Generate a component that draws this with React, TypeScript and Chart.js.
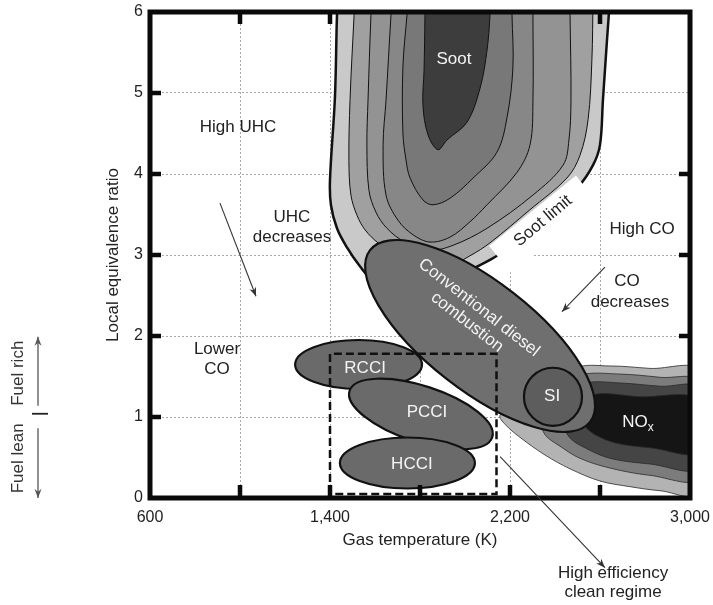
import React, { useEffect, useRef } from 'react';
import { Chart, registerables } from 'chart.js';

Chart.register(...registerables);

const FONT = '"Liberation Sans", Arial, Helvetica, sans-serif';

// ---------- axes ----------
const X_MIN = 600;
const X_MAX = 3000;
const X_STEP = 400;
const X_LABELED_TICKS = [600, 1400, 2200, 3000];
const Y_MIN = 0;
const Y_MAX = 6;
const Y_STEP = 1;

// inward tick marks on the heavy frame
const LEFT_MARKS = [1, 2, 3, 4, 5];
const RIGHT_MARKS = [2, 3, 4];
const TOP_MARKS = [1000, 1400, 2600];
const BOTTOM_MARKS = [1000, 1400, 1800, 2200, 2600];

// ---------- soot contours (outer -> inner): gas temperature K / equivalence ratio ----------
const SOOT1_T = [1436, 1431, 1422, 1400, 1404, 1431, 1476, 1533, 1600, 1711, 1889, 2022, 2111, 2169, 2333, 2502, 2569, 2600, 2613, 2631, 2644];
const SOOT1_PHI = [6.15, 5.96, 4.95, 3.93, 3.62, 3.33, 3.09, 2.86, 2.65, 2.47, 2.57, 2.81, 2.94, 3.04, 3.41, 3.84, 4.11, 4.36, 4.91, 5.65, 6.15];
const SOOT2_T = [1511, 1507, 1489, 1484, 1493, 1520, 1556, 1613, 1689, 1800, 1911, 2022, 2111, 2289, 2453, 2511, 2547, 2564, 2569];
const SOOT2_PHI = [6.15, 5.96, 4.91, 4.17, 3.74, 3.49, 3.31, 3.15, 3.0, 2.84, 2.84, 2.99, 3.15, 3.56, 3.95, 4.23, 4.67, 5.41, 6.15];
const SOOT3_T = [1587, 1582, 1569, 1564, 1573, 1604, 1653, 1733, 1844, 1947, 2098, 2302, 2436, 2462, 2471, 2467, 2467];
const SOOT3_PHI = [6.15, 5.96, 4.91, 4.36, 3.8, 3.53, 3.33, 3.16, 3.06, 3.12, 3.33, 3.74, 4.11, 4.42, 4.91, 5.96, 6.15];
const SOOT4_T = [1676, 1671, 1649, 1636, 1649, 1702, 1769, 1844, 1933, 2022, 2098, 2231, 2289, 2302, 2302, 2302];
const SOOT4_PHI = [6.15, 5.96, 4.91, 4.36, 3.74, 3.43, 3.25, 3.16, 3.22, 3.41, 3.62, 4.02, 4.36, 4.91, 5.96, 6.15];
const SOOT5_T = [1747, 1742, 1724, 1724, 1738, 1756, 1813, 1858, 1933, 2036, 2142, 2187, 2213, 2209, 2209];
const SOOT5_PHI = [6.15, 5.96, 5.32, 4.51, 4.17, 3.95, 3.68, 3.62, 3.7, 3.95, 4.27, 4.7, 5.32, 5.96, 6.15];
const SOOT6_T = [1822, 1822, 1818, 1813, 1836, 1880, 1920, 2009, 2067, 2098, 2111, 2111];
const SOOT6_PHI = [6.15, 5.96, 5.28, 4.85, 4.48, 4.3, 4.42, 4.64, 5.06, 5.53, 5.96, 6.15];

// ---------- NOx contours (outer -> inner) ----------
const NOX1_T = [2333, 2489, 2644, 2822, 3044, 3044, 2867, 2733, 2600, 2467, 2356, 2244, 2178, 2156, 2244];
const NOX1_PHI = [1.21, 1.6, 1.63, 1.6, 1.56, 0.06, 0.09, 0.14, 0.21, 0.36, 0.53, 0.75, 0.91, 1.02, 1.15];
const NOX2_T = [2378, 2511, 2689, 2867, 3044, 3044, 2822, 2644, 2511, 2422, 2356, 2333];
const NOX2_PHI = [1.33, 1.52, 1.53, 1.49, 1.43, 0.25, 0.28, 0.37, 0.49, 0.64, 0.78, 0.96];
const NOX3_T = [2444, 2533, 2689, 2867, 3044, 3044, 2822, 2644, 2533, 2467, 2422];
const NOX3_PHI = [1.27, 1.42, 1.42, 1.38, 1.35, 0.38, 0.42, 0.49, 0.62, 0.74, 0.96];
const NOX4_T = [2533, 2556, 2778, 3044, 3044, 2822, 2667, 2578, 2540];
const NOX4_PHI = [0.96, 1.26, 1.25, 1.21, 0.57, 0.62, 0.68, 0.78, 0.86];

// white "soot limit" band
const SOOT_LIMIT_T = [2107, 2493, 2591, 2204];
const SOOT_LIMIT_PHI = [3.11, 3.98, 3.64, 2.78];

// ---------- combustion regimes (ellipses): centre, major-axis tip, minor/major ratio ----------
const REGIME_NAMES = ['Conventional', 'RCCI', 'PCCI', 'HCCI', 'SI'];
const REGIME_CX = [2067, 1527, 1804, 1744, 2391];
const REGIME_CY = [2.0, 1.648, 1.037, 0.432, 1.25];
const REGIME_TIP_X = [1578, 1809, 2121, 2044, 2520];
const REGIME_TIP_Y = [3.06, 1.648, 0.75, 0.432, 1.25];
const REGIME_RATIO = [0.39, 0.386, 0.373, 0.378, 1];

// dashed "high efficiency clean regime" box
const BOX_T = [1400, 2140];
const BOX_PHI = [0.05, 1.78];

// ---------- labels ----------
type Label = { text: string; x: number; y: number; white?: boolean; rot?: number };
const LABELS: Label[] = [
  { text: 'Soot', x: 1951, y: 5.41, white: true },
  { text: 'High UHC', x: 991, y: 4.58 },
  { text: 'UHC', x: 1231, y: 3.46 },
  { text: 'decreases', x: 1231, y: 3.22 },
  { text: 'High CO', x: 2787, y: 3.32 },
  { text: 'CO', x: 2720, y: 2.67 },
  { text: 'decreases', x: 2733, y: 2.42 },
  { text: 'Lower', x: 898, y: 1.83 },
  { text: 'CO', x: 898, y: 1.59 },
  { text: 'RCCI', x: 1556, y: 1.6, white: true },
  { text: 'PCCI', x: 1831, y: 1.06, white: true },
  { text: 'HCCI', x: 1764, y: 0.41, white: true },
  { text: 'SI', x: 2387, y: 1.25, white: true },
  { text: 'Conventional diesel', x: 2062, y: 2.35, white: true, rot: 38 },
  { text: 'combustion', x: 2009, y: 2.17, white: true, rot: 38 },
  { text: 'Soot limit', x: 2347, y: 3.42, rot: -40 },
  { text: 'High efficiency', x: 2658, y: -0.93 },
  { text: 'clean regime', x: 2658, y: -1.16 },
];
const NOX_LABEL = { x: 2769, y: 0.94 };

const ARROW_FROM_T = [911, 2622, 2156];
const ARROW_FROM_PHI = [3.64, 2.85, 0.51];
const ARROW_TO_T = [1071, 2431, 2622];
const ARROW_TO_PHI = [2.49, 2.3, -0.86];

// fuel lean / rich side note (equivalence-ratio positions)
const FUEL_RICH_ARROW = [1.14, 1.99];
const FUEL_LEAN_ARROW = [0.86, 0.0];
const FUEL_DIVIDER = 1.04;
const FUEL_RICH_TEXT = 1.54;
const FUEL_LEAN_TEXT = 0.49;

const SOOT_FILL = ['#c9c9c9', '#a0a0a0', '#939393', '#878787', '#787878', '#3d3d3d'];
const NOX_FILL = ['#b3b3b3', '#7c7c7c', '#454545', '#151515'];
const REGIME_FILL = ['#6f6f6f', '#6a6a6a', '#6a6a6a', '#6a6a6a', '#5d5d5d'];

function fmtTick(v: number) {
  if (v >= 1000) return `${Math.floor(v / 1000)},${String(v % 1000).padStart(3, '0')}`;
  return String(v);
}

function drawArrow(ctx: CanvasRenderingContext2D, x1: number, y1: number, x2: number, y2: number, head = 9, half = 3.5) {
  ctx.beginPath();
  ctx.moveTo(x1, y1);
  ctx.lineTo(x2, y2);
  ctx.stroke();
  const a = Math.atan2(y2 - y1, x2 - x1);
  const c = Math.cos(a), s = Math.sin(a);
  ctx.beginPath();
  ctx.moveTo(x2, y2);
  ctx.lineTo(x2 - head * c + half * s, y2 - head * s - half * c);
  ctx.lineTo(x2 - head * 0.7 * c, y2 - head * 0.7 * s);
  ctx.lineTo(x2 - head * c - half * s, y2 - head * s + half * c);
  ctx.closePath();
  ctx.fill();
}

const overlayPlugin = {
  id: 'overlay',
  afterDatasetsDraw(chart: any) {
    const { ctx, chartArea: a } = chart;
    const xs = chart.scales.x, ys = chart.scales.y;
    const X = (v: number) => xs.getPixelForValue(v);
    const Y = (v: number) => ys.getPixelForValue(v);
    ctx.save();
    ctx.beginPath();
    ctx.rect(a.left, a.top, a.right - a.left, a.bottom - a.top);
    ctx.clip();

    // soot limit white band
    ctx.beginPath();
    SOOT_LIMIT_T.forEach((t, i) => {
      if (i === 0) ctx.moveTo(X(t), Y(SOOT_LIMIT_PHI[i]));
      else ctx.lineTo(X(t), Y(SOOT_LIMIT_PHI[i]));
    });
    ctx.closePath();
    ctx.fillStyle = '#ffffff';
    ctx.fill();

    // regimes
    for (let i = 0; i < REGIME_NAMES.length; i++) {
      const cx = X(REGIME_CX[i]), cy = Y(REGIME_CY[i]);
      const tx = X(REGIME_TIP_X[i]), ty = Y(REGIME_TIP_Y[i]);
      const ra = Math.hypot(tx - cx, ty - cy);
      const ang = Math.atan2(ty - cy, tx - cx);
      ctx.beginPath();
      ctx.ellipse(cx, cy, ra, ra * REGIME_RATIO[i], ang, 0, Math.PI * 2);
      ctx.fillStyle = REGIME_FILL[i];
      ctx.fill();
      ctx.lineWidth = 2.2;
      ctx.strokeStyle = '#111';
      ctx.stroke();
    }

    // dashed box
    ctx.setLineDash([8, 4]);
    ctx.lineWidth = 2.5;
    ctx.strokeStyle = '#111';
    ctx.beginPath();
    ctx.moveTo(X(BOX_T[0]), Y(BOX_PHI[0]));
    ctx.lineTo(X(BOX_T[0]), Y(BOX_PHI[1]));
    ctx.lineTo(X(BOX_T[1]), Y(BOX_PHI[1]));
    ctx.lineTo(X(BOX_T[1]), Y(BOX_PHI[0]));
    ctx.closePath();
    ctx.stroke();
    ctx.setLineDash([]);
    ctx.restore();
  },
  afterDraw(chart: any) {
    const { ctx, chartArea: a } = chart;
    const xs = chart.scales.x, ys = chart.scales.y;
    const X = (v: number) => xs.getPixelForValue(v);
    const Y = (v: number) => ys.getPixelForValue(v);
    ctx.save();

    // heavy frame and inward marks
    ctx.strokeStyle = '#0a0a0a';
    ctx.lineWidth = 5;
    ctx.strokeRect(a.left, a.top, a.right - a.left, a.bottom - a.top);
    ctx.lineWidth = 4.5;
    ctx.beginPath();
    LEFT_MARKS.forEach((v) => { ctx.moveTo(a.left, Y(v)); ctx.lineTo(a.left + 11, Y(v)); });
    RIGHT_MARKS.forEach((v) => { ctx.moveTo(a.right, Y(v)); ctx.lineTo(a.right - 11, Y(v)); });
    TOP_MARKS.forEach((v) => { ctx.moveTo(X(v), a.top); ctx.lineTo(X(v), a.top + 12); });
    BOTTOM_MARKS.forEach((v) => { ctx.moveTo(X(v), a.bottom); ctx.lineTo(X(v), a.bottom - 13); });
    ctx.stroke();

    // arrows
    ctx.strokeStyle = '#333';
    ctx.fillStyle = '#333';
    ctx.lineWidth = 1.1;
    for (let i = 0; i < ARROW_FROM_T.length; i++) {
      drawArrow(ctx, X(ARROW_FROM_T[i]), Y(ARROW_FROM_PHI[i]), X(ARROW_TO_T[i]), Y(ARROW_TO_PHI[i]));
    }

    // labels
    ctx.textAlign = 'center';
    ctx.textBaseline = 'middle';
    ctx.font = `17px ${FONT}`;
    LABELS.forEach((l) => {
      ctx.fillStyle = l.white ? '#f4f4f4' : '#222';
      ctx.save();
      ctx.translate(X(l.x), Y(l.y));
      if (l.rot) ctx.rotate((l.rot * Math.PI) / 180);
      ctx.fillText(l.text, 0, 0);
      ctx.restore();
    });
    // NOx with subscript
    {
      const nx = X(NOX_LABEL.x), ny = Y(NOX_LABEL.y);
      ctx.fillStyle = '#f4f4f4';
      ctx.font = `17px ${FONT}`;
      const w1 = ctx.measureText('NO').width;
      ctx.font = `12px ${FONT}`;
      const w2 = ctx.measureText('x').width;
      const start = nx - (w1 + w2) / 2;
      ctx.textAlign = 'left';
      ctx.font = `17px ${FONT}`;
      ctx.fillText('NO', start, ny);
      ctx.font = `12px ${FONT}`;
      ctx.fillText('x', start + w1, ny + 6);
    }

    // fuel lean / rich note
    const fx = 38;
    ctx.strokeStyle = '#555';
    ctx.fillStyle = '#555';
    ctx.lineWidth = 1.3;
    drawArrow(ctx, fx, Y(FUEL_RICH_ARROW[0]), fx, Y(FUEL_RICH_ARROW[1]), 9, 3.5);
    drawArrow(ctx, fx, Y(FUEL_LEAN_ARROW[0]), fx, Y(FUEL_LEAN_ARROW[1]), 9, 3.5);
    ctx.strokeStyle = '#222';
    ctx.lineWidth = 1.8;
    ctx.beginPath();
    ctx.moveTo(32, Y(FUEL_DIVIDER));
    ctx.lineTo(48, Y(FUEL_DIVIDER));
    ctx.stroke();
    ctx.fillStyle = '#333';
    ctx.font = `17px ${FONT}`;
    ctx.textAlign = 'center';
    ctx.textBaseline = 'middle';
    [
      ['Fuel rich', FUEL_RICH_TEXT],
      ['Fuel lean', FUEL_LEAN_TEXT],
    ].forEach(([t, v]) => {
      ctx.save();
      ctx.translate(18, Y(v as number));
      ctx.rotate(-Math.PI / 2);
      ctx.fillText(t as string, 0, 0);
      ctx.restore();
    });

    ctx.restore();
  },
};

function series(t: number[], p: number[]) {
  return t.map((v, i) => ({ x: v, y: p[i] }));
}

export default function App() {
  const ref = useRef<HTMLCanvasElement>(null);
  useEffect(() => {
    const soot = [
      [SOOT1_T, SOOT1_PHI], [SOOT2_T, SOOT2_PHI], [SOOT3_T, SOOT3_PHI],
      [SOOT4_T, SOOT4_PHI], [SOOT5_T, SOOT5_PHI], [SOOT6_T, SOOT6_PHI],
    ];
    const nox = [[NOX1_T, NOX1_PHI], [NOX2_T, NOX2_PHI], [NOX3_T, NOX3_PHI], [NOX4_T, NOX4_PHI]];
    const datasets: any[] = [];
    soot.forEach(([t, p], i) => datasets.push({
      label: `soot${i + 1}`,
      data: series(t, p),
      showLine: true,
      fill: 'shape',
      backgroundColor: SOOT_FILL[i],
      borderColor: '#111',
      borderWidth: i === 0 ? 2.5 : 1,
      pointRadius: 0,
      tension: 0.35,
    }));
    nox.forEach(([t, p], i) => datasets.push({
      label: `nox${i + 1}`,
      data: series(t, p),
      showLine: true,
      fill: 'shape',
      backgroundColor: NOX_FILL[i],
      borderColor: '#2a2a2a',
      borderWidth: 0.8,
      pointRadius: 0,
      tension: 0.35,
    }));
    datasets.forEach((d, i) => { d.order = -i; });

    const gridColor = '#a8a8a8';
    const chart = new Chart(ref.current as HTMLCanvasElement, {
      type: 'scatter',
      data: { datasets },
      options: {
        responsive: false,
        animation: false,
        devicePixelRatio: 1,
        events: [],
        layout: { padding: { left: 103, right: 23, top: 12, bottom: 54 } },
        elements: { line: { capBezierPoints: false } },
        plugins: { legend: { display: false }, tooltip: { enabled: false } },
        scales: {
          x: {
            type: 'linear',
            min: X_MIN,
            max: X_MAX,
            ticks: {
              stepSize: X_STEP,
              autoSkip: false,
              maxRotation: 0,
              padding: 10,
              color: '#222',
              font: { family: FONT, size: 16 },
              callback: (v: any) => (X_LABELED_TICKS.includes(Number(v)) ? fmtTick(Number(v)) : ''),
            },
            grid: { color: gridColor, lineWidth: 1, drawTicks: false },
            border: { display: false, dash: [2, 2] },
            title: { display: true, text: 'Gas temperature (K)', color: '#222', font: { family: FONT, size: 17 }, padding: 0 },
            afterFit: (s: any) => { s.height = 53; s.paddingLeft = 0; s.paddingRight = 0; },
          },
          y: {
            type: 'linear',
            min: Y_MIN,
            max: Y_MAX,
            ticks: { stepSize: Y_STEP, padding: 7, color: '#222', font: { family: FONT, size: 16 } },
            grid: { color: gridColor, lineWidth: 1, drawTicks: false },
            border: { display: false, dash: [2, 2] },
            title: { display: true, text: 'Local equivalence ratio', color: '#222', font: { family: FONT, size: 17 }, padding: 0 },
            afterFit: (s: any) => { s.width = 47; s.paddingTop = 0; s.paddingBottom = 0; },
          },
        },
      } as any,
      plugins: [overlayPlugin],
    });
    return () => chart.destroy();
  }, []);
  return (
    <canvas
      ref={ref}
      width={713}
      height={605}
      style={{ position: 'fixed', left: 0, top: 0, width: 713, height: 605 }}
    />
  );
}
